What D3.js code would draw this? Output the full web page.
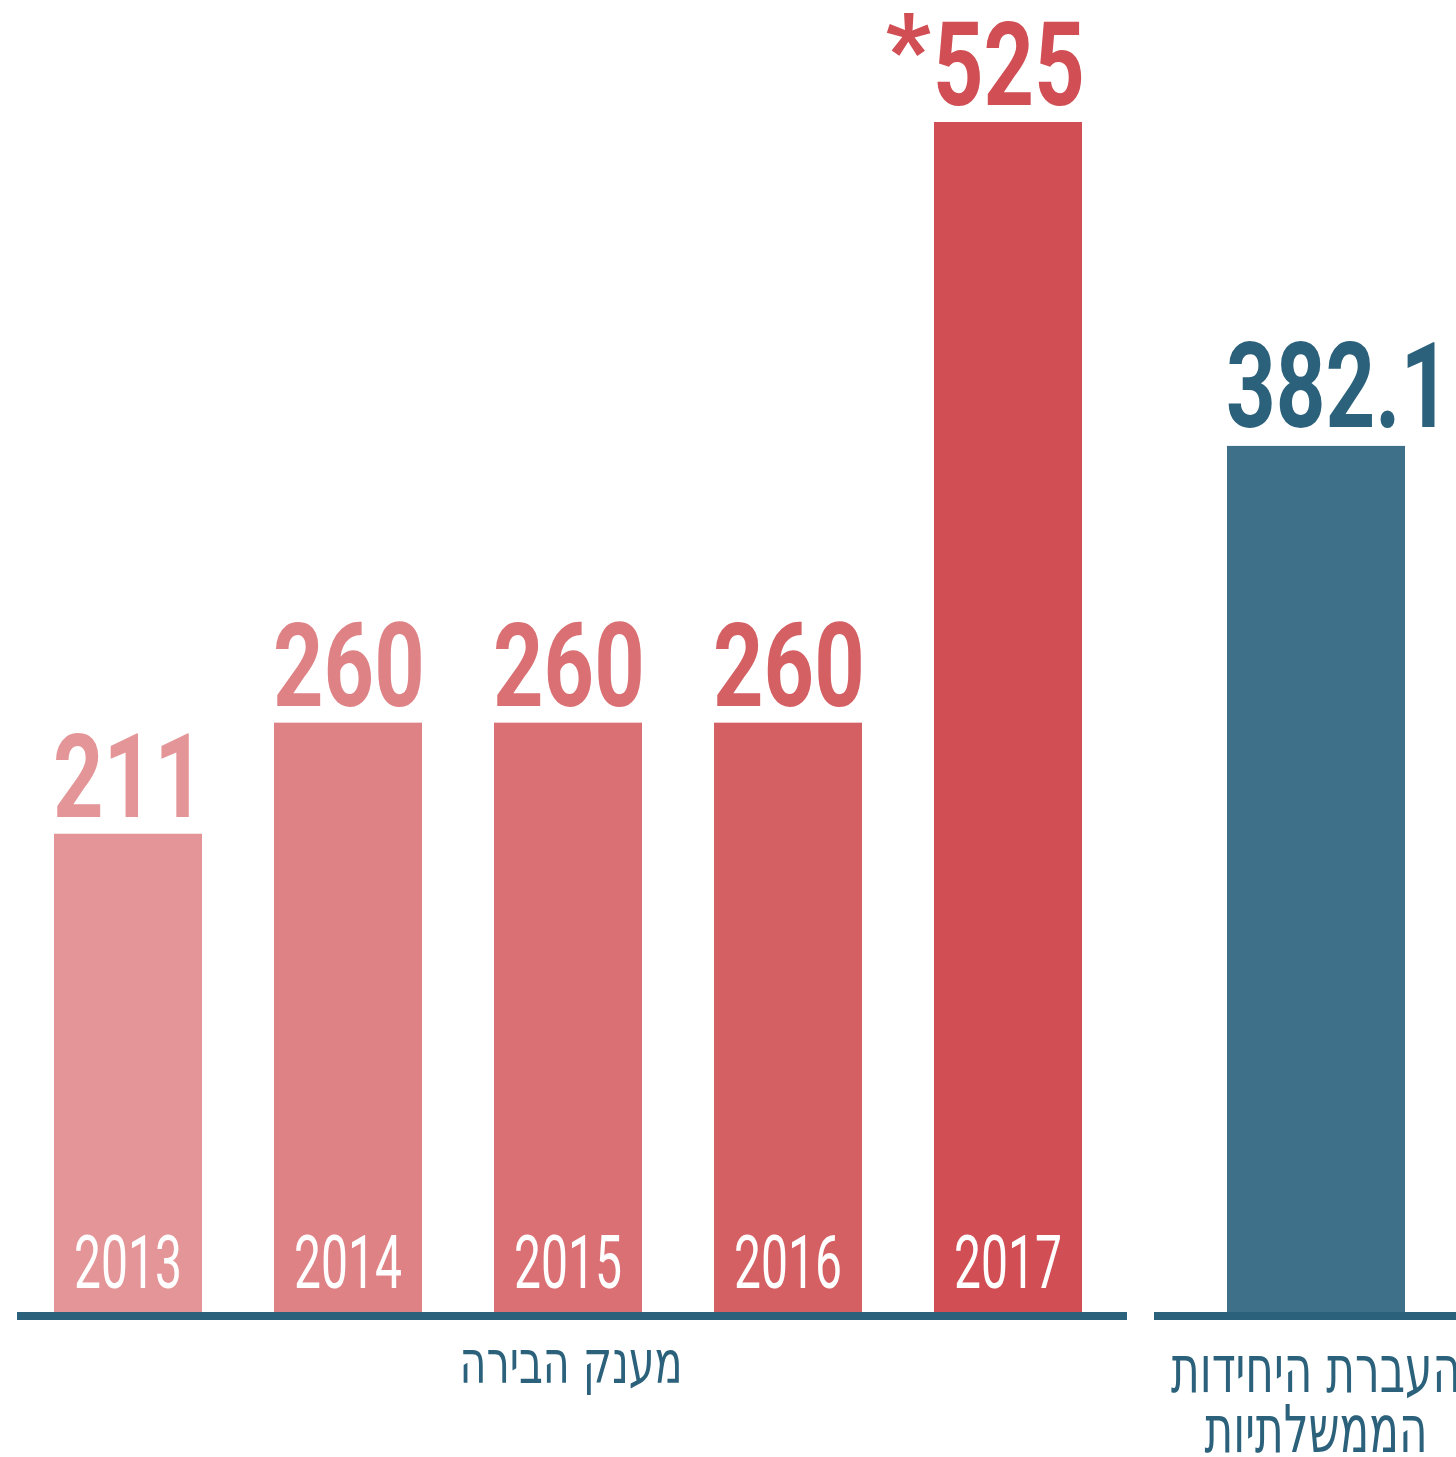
<!DOCTYPE html>
<html>
<head>
<meta charset="utf-8">
<script src="https://cdn.jsdelivr.net/npm/d3@7"></script>
<style>
  body { margin: 0; background: #fff; }
</style>
</head>
<body>
<div id="chart"></div>
<script>
// data
var years = ["2013", "2014", "2015", "2016", "2017"];
var grantValues = [211, 260, 260, 260, 525];
var grantLabels = ["211", "260", "260", "260", "525"];
var grantNotes = ["", "", "", "", "*"];
var grantColors = ["#e49597", "#df8285", "#da7073", "#d56064", "#d14f54"];
var transferCats = ["transfer"];
var transferValues = [382.1];
var transferLabels = ["382.1"];
var grantTitle = "מענק הבירה";
var transferTitle = ["העברת היחידות", "הממשלתיות"];

var W = 1456, H = 1457;
var blue = "#2b617b", blueBar = "#3e7189";

var svg = d3.select("#chart")
    .append("svg")
    .attr("width", W)
    .attr("height", H);

// scales
var y = d3.scaleLinear()
    .domain([0, 525])
    .range([1312, 122]);

var x = d3.scaleBand()
    .domain(years)
    .range([18, 1118])
    .paddingInner(72 / 220)
    .paddingOuter(36 / 220);

var x2 = d3.scaleBand()
    .domain(transferCats)
    .range([1154, 1478])
    .paddingOuter(73 / 178);

var numFont = "Roboto, 'Liberation Sans', sans-serif";
var hebFont = "'DejaVu Sans Condensed', 'DejaVu Sans', sans-serif";

// grant bars
svg.selectAll(".grant")
    .data(grantValues)
    .enter()
    .append("rect")
    .attr("class", "grant")
    .attr("x", function(d, i) { return x(years[i]); })
    .attr("y", function(d) { return y(d); })
    .attr("width", x.bandwidth())
    .attr("height", function(d) { return y(0) - y(d); })
    .attr("fill", function(d, i) { return grantColors[i]; });

// transfer bar
svg.selectAll(".transfer")
    .data(transferValues)
    .enter()
    .append("rect")
    .attr("class", "transfer")
    .attr("x", function(d, i) { return x2(transferCats[i]); })
    .attr("y", function(d) { return y(d); })
    .attr("width", x2.bandwidth())
    .attr("height", function(d) { return y(0) - y(d); })
    .attr("fill", blueBar);

// value labels (bold, squeezed horizontally)
var squeeze = 0.76;
svg.selectAll(".val")
    .data(grantValues)
    .enter()
    .append("g")
    .attr("transform", function(d, i) {
        return "translate(" + (x(years[i]) - 1) + "," + (y(d) - 17) + ") scale(" + squeeze + ",1)";
    })
    .append("text")
    .attr("font-family", numFont)
    .attr("font-weight", 700)
    .attr("font-size", 116)
    .attr("fill", function(d, i) { return grantColors[i]; })
    .text(function(d, i) { return grantLabels[i]; });

svg.selectAll(".note")
    .data(grantValues)
    .enter()
    .append("text")
    .attr("x", function(d, i) { return x(years[i]) - 3; })
    .attr("y", function(d) { return y(d) - 38; })
    .attr("text-anchor", "end")
    .attr("font-family", numFont)
    .attr("font-weight", 700)
    .attr("font-size", 100)
    .attr("fill", function(d, i) { return grantColors[i]; })
    .text(function(d, i) { return grantNotes[i]; });

svg.selectAll(".val2")
    .data(transferValues)
    .enter()
    .append("g")
    .attr("transform", function(d, i) {
        return "translate(" + (x2(transferCats[i]) - 1) + "," + (y(d) - 19) + ") scale(0.735,1)";
    })
    .append("text")
    .attr("font-family", numFont)
    .attr("font-weight", 700)
    .attr("font-size", 118)
    .attr("fill", blue)
    .text(function(d, i) { return transferLabels[i]; });

// year labels inside bars
svg.selectAll(".year")
    .data(years)
    .enter()
    .append("g")
    .attr("transform", function(d) {
        return "translate(" + (x(d) + x.bandwidth() / 2) + "," + (y(0) - 24) + ") scale(0.64,1)";
    })
    .append("text")
    .attr("text-anchor", "middle")
    .attr("font-family", numFont)
    .attr("font-weight", 400)
    .attr("font-size", 75)
    .attr("fill", "#fff")
    .text(function(d) { return d; });

// baselines
svg.append("rect")
    .attr("x", 17)
    .attr("y", y(0))
    .attr("width", 1127 - 17)
    .attr("height", 8)
    .attr("fill", blue);

svg.append("rect")
    .attr("x", 1154)
    .attr("y", y(0))
    .attr("width", W - 1154)
    .attr("height", 8)
    .attr("fill", blue);

// group titles
var grantCenter = (x(years[0]) + x(years[years.length - 1]) + x.bandwidth()) / 2 + 3;
svg.append("text")
    .attr("x", grantCenter)
    .attr("y", 1383)
    .attr("text-anchor", "middle")
    .attr("direction", "rtl")
    .attr("font-family", hebFont)
    .attr("font-size", 60)
    .attr("textLength", 223)
    .attr("lengthAdjust", "spacingAndGlyphs")
    .attr("fill", blue)
    .text(grantTitle);

var transferCenter = x2(transferCats[0]) + x2.bandwidth() / 2;
var titleWidths = [290, 223];
svg.selectAll(".ttitle")
    .data(transferTitle)
    .enter()
    .append("text")
    .attr("x", transferCenter)
    .attr("y", function(d, i) { return 1392 + i * 60; })
    .attr("text-anchor", "middle")
    .attr("direction", "rtl")
    .attr("font-family", hebFont)
    .attr("font-size", 66)
    .attr("textLength", function(d, i) { return titleWidths[i]; })
    .attr("lengthAdjust", "spacingAndGlyphs")
    .attr("fill", blue)
    .text(function(d) { return d; });
</script>
</body>
</html>
